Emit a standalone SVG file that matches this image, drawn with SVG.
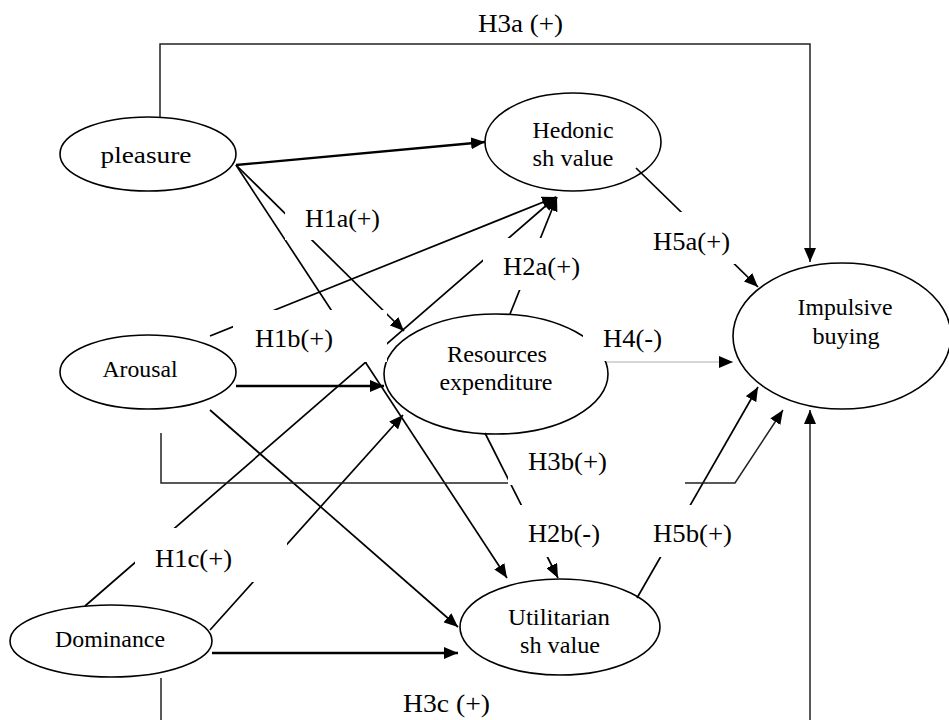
<svg xmlns="http://www.w3.org/2000/svg" width="949" height="720" viewBox="0 0 949 720">
<style>
.n ellipse{fill:none;stroke:#000;stroke-width:1.6}
.t{font-family:"Liberation Serif","Times New Roman",serif;font-size:24px;text-anchor:middle;fill:#000}
.l{font-family:"Liberation Serif","Times New Roman",serif;font-size:26px;fill:#000}
.c line,.c polyline{fill:none;stroke:#000;stroke-width:1.7}
.c .k{stroke-width:2.3}
.c .g{stroke:#c8c8c8;stroke-width:1.3}
.c .h{stroke:#222;stroke-width:1.5}
.a{marker-end:url(#ah)}
.bg{fill:#fff}
</style>
<defs>
<marker id="ah" markerUnits="userSpaceOnUse" viewBox="0 0 14 12" refX="14" refY="6" markerWidth="14" markerHeight="12" orient="auto">
<path d="M0,0 L14,6 L0,12 z" fill="#000"/>
</marker>
</defs>
<rect width="949" height="720" fill="#fff"/>
<g id="connectors" class="c">
<polyline class="h a" points="160,117 160,44 810,44 810,262"/>
<line class="k a" x1="236" y1="165" x2="485" y2="142"/>
<line class="a" x1="236" y1="165" x2="404" y2="331"/>
<line class="a" x1="236" y1="165" x2="507" y2="578"/>
<line class="a" x1="210" y1="336" x2="556" y2="197"/>
<line class="k a" x1="236" y1="386" x2="384" y2="386"/>
<line class="a" x1="210" y1="410" x2="458" y2="627"/>
<line class="a" x1="85" y1="606" x2="556" y2="197"/>
<line class="a" x1="210" y1="630" x2="403" y2="415"/>
<line class="k a" x1="212" y1="653" x2="458" y2="653"/>
<line class="a" x1="510" y1="314" x2="557" y2="197"/>
<line class="a" x1="485" y1="433" x2="558" y2="578"/>
<line class="a" x1="636" y1="168" x2="758" y2="287"/>
<line class="g a" x1="607" y1="362" x2="733" y2="362"/>
<line class="a" x1="637" y1="598" x2="758" y2="387"/>
<polyline class="h a" points="161,433 161,483 735,483 783,410"/>
<line class="h" x1="161" y1="678" x2="161" y2="722"/>
<line class="h a" x1="810" y1="722" x2="810" y2="410"/>
</g>
<g id="pleasure" class="n"><ellipse cx="148" cy="154" rx="88" ry="37"/><text class="t" x="146" y="163" textLength="91" lengthAdjust="spacingAndGlyphs">pleasure</text></g>
<g id="hedonic" class="n"><ellipse cx="573" cy="142" rx="88" ry="49"/><text class="t" x="573" y="138" textLength="81" lengthAdjust="spacingAndGlyphs">Hedonic</text><text class="t" x="573" y="166" textLength="81" lengthAdjust="spacingAndGlyphs">sh value</text></g>
<g id="arousal" class="n"><ellipse cx="148" cy="372" rx="88" ry="37"/><text class="t" x="140" y="377" textLength="75" lengthAdjust="spacingAndGlyphs">Arousal</text></g>
<g id="resources" class="n"><ellipse cx="496" cy="374" rx="112" ry="60"/><text class="t" x="497" y="362" textLength="100" lengthAdjust="spacingAndGlyphs">Resources</text><text class="t" x="496" y="390" textLength="113" lengthAdjust="spacingAndGlyphs">expenditure</text></g>
<g id="impulsive" class="n"><ellipse cx="842" cy="336" rx="109" ry="73"/><text class="t" x="845" y="315" textLength="95" lengthAdjust="spacingAndGlyphs">Impulsive</text><text class="t" x="846" y="344" textLength="67" lengthAdjust="spacingAndGlyphs">buying</text></g>
<g id="dominance" class="n"><ellipse cx="111" cy="641" rx="101" ry="36"/><text class="t" x="110" y="647" textLength="110" lengthAdjust="spacingAndGlyphs">Dominance</text></g>
<g id="utilitarian" class="n"><ellipse cx="560" cy="627" rx="100" ry="48"/><text class="t" x="559" y="625" textLength="102" lengthAdjust="spacingAndGlyphs">Utilitarian</text><text class="t" x="560" y="653" textLength="80" lengthAdjust="spacingAndGlyphs">sh value</text></g>
<g id="labels">
<g id="l-h3a"><text class="l" x="478" y="32" textLength="85" lengthAdjust="spacingAndGlyphs">H3a (+)</text></g>
<g id="l-h1a"><rect class="bg" x="285" y="200" width="100" height="40"/><text class="l" x="305" y="227" textLength="75" lengthAdjust="spacingAndGlyphs">H1a(+)</text></g>
<g id="l-h1b"><rect class="bg" x="233" y="310" width="154" height="52"/><text class="l" x="255" y="347" textLength="78" lengthAdjust="spacingAndGlyphs">H1b(+)</text></g>
<g id="l-h2a"><rect class="bg" x="483" y="238" width="107" height="52"/><text class="l" x="503" y="275" textLength="77" lengthAdjust="spacingAndGlyphs">H2a(+)</text></g>
<g id="l-h5a"><rect class="bg" x="645" y="212" width="95" height="52"/><text class="l" x="653" y="250" textLength="77" lengthAdjust="spacingAndGlyphs">H5a(+)</text></g>
<g id="l-h4"><rect class="bg" x="583" y="318" width="85" height="43"/><text class="l" x="603" y="347" textLength="59" lengthAdjust="spacingAndGlyphs">H4(-)</text></g>
<g id="l-h3b"><rect class="bg" x="508" y="450" width="177" height="35"/><text class="l" x="528" y="470" textLength="79" lengthAdjust="spacingAndGlyphs">H3b(+)</text></g>
<g id="l-h2b"><rect class="bg" x="515" y="505" width="90" height="52"/><text class="l" x="528" y="542" textLength="72" lengthAdjust="spacingAndGlyphs">H2b(-)</text></g>
<g id="l-h5b"><rect class="bg" x="645" y="505" width="92" height="52"/><text class="l" x="653" y="542" textLength="79" lengthAdjust="spacingAndGlyphs">H5b(+)</text></g>
<g id="l-h1c"><rect class="bg" x="135" y="528" width="152" height="54"/><text class="l" x="155" y="567" textLength="77" lengthAdjust="spacingAndGlyphs">H1c(+)</text></g>
<g id="l-h3c"><text class="l" x="403" y="712" textLength="87" lengthAdjust="spacingAndGlyphs">H3c (+)</text></g>
</g>
</svg>
